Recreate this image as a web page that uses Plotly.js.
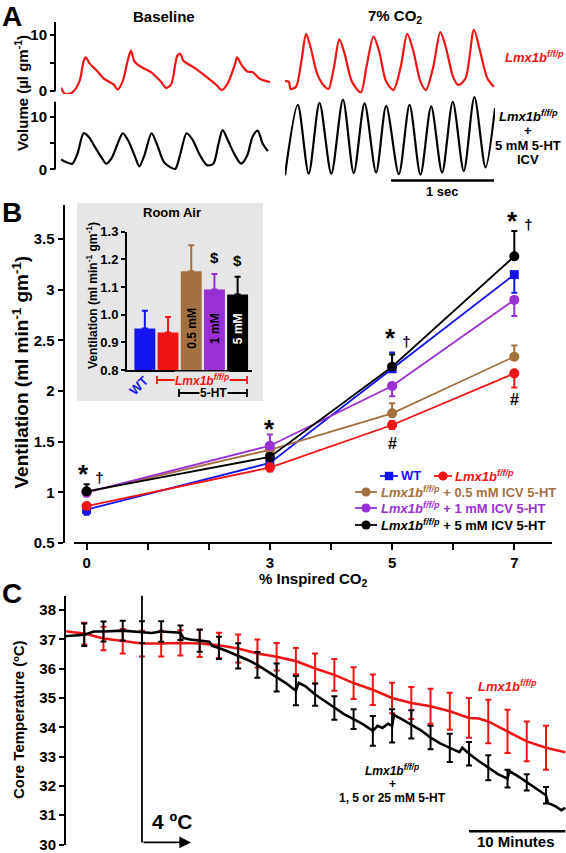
<!DOCTYPE html>
<html><head><meta charset="utf-8">
<script src="https://cdn.plot.ly/plotly-3.0.1.min.js"></script>
<style>html,body{margin:0;padding:0;background:#fff}#chart{width:566px;height:853px}</style>
</head><body><div id="chart"></div>
<script>
// ---------- Panel A: breathing traces (time in s, volume in µl/g) ----------
const redBaseT = [0,0.04,0.11,0.18,0.22,0.24,0.28,0.35,0.42,0.51,0.55,0.6,0.65,0.68,0.71,0.77,0.88,0.97,1.02,1.07,1.13,1.16,1.19,1.3,1.41,1.51,1.56,1.62,1.69,1.71,1.76,1.81,1.86,1.93,2.03];
const redBaseV = [0.6,-0.5,-0.2,1.8,5.4,6.0,4.9,3.6,2.2,1.2,0.3,1.8,5.6,7.2,5.4,4.4,3.3,1.7,0.6,1.2,6.3,6.6,5.4,4.1,2.6,1.1,0.2,1.4,4.8,6.0,4.5,3.5,3.4,2.2,1.6];
const redCo2T = [0,0.037,0.054,0.107,0.16,0.205,0.247,0.317,0.387,0.423,0.475,0.528,0.58,0.65,0.738,0.79,0.86,0.913,0.983,1.053,1.123,1.187,1.246,1.316,1.369,1.439,1.509,1.561,1.632,1.684,1.754,1.835,1.894,1.965,2.028];
const redCo2V = [1.8,1.7,0.4,0.8,5.4,10.2,7.9,2.9,0.8,0.4,4.2,9.2,6.6,1.7,-0.2,4.2,9.7,7.2,1.7,0.2,4.2,10.2,7.2,1.7,0.2,4.2,10.5,7.9,2.6,1.1,2.3,10.9,7.2,2.3,0.8];
const blkBaseT = [0,0.05,0.11,0.16,0.22,0.27,0.32,0.39,0.44,0.49,0.55,0.6,0.65,0.72,0.76,0.81,0.88,0.93,1.0,1.06,1.11,1.16,1.22,1.28,1.35,1.42,1.48,1.53,1.57,1.62,1.69,1.75,1.81,1.86,1.91,1.96,2.01];
const blkBaseV = [1.9,1.4,1.1,3.0,6.9,6.2,4.6,2.4,1.1,2.1,4.9,6.9,5.6,2.4,0.6,2.7,6.9,4.9,1.4,0.45,0.1,3.0,6.9,5.6,2.7,0.8,1.1,4.9,7.5,5.6,2.7,1.1,2.7,6.2,7.4,4.9,3.5];
const blkCo2T = [0,0.124,0.23,0.335,0.45,0.563,0.668,0.773,0.885,0.983,1.106,1.21,1.316,1.42,1.526,1.63,1.737,1.84,1.948,2.04];
const blkCo2V = [-1.1,12.3,-0.8,12.7,-0.8,13.3,-0.7,12.6,-0.6,12.1,-0.9,12.3,-1.0,12.0,-0.6,12.9,-0.3,13.8,0.4,11.7];

// ---------- Panel B: ventilation vs inspired CO2 ----------
const co2Pct = [0,3,5,7];
const co2TickText = ['0','','','3','','5','','7'];
const wtVent = [0.83,1.29,2.22,3.15],   wtPlus = [0,0,0.16,0],     wtMinus = [0.05,0.03,0,0.18];
const lmxVent = [0.865,1.245,1.665,2.175], lmxPlus = [0.03,0.04,0.04,0], lmxMinus = [0.03,0.04,0.04,0.14];
const ht05Vent = [1.0,1.42,1.78,2.34],  ht05Plus = [0,0,0.1,0.11],  ht05Minus = [0,0,0,0];
const ht1Vent = [1.0,1.46,2.05,2.9],    ht1Plus = [0,0.11,0,0],     ht1Minus = [0.04,0,0.1,0.16];
const ht5Vent = [1.01,1.35,2.24,3.33],  ht5Plus = [0.07,0,0.12,0.25], ht5Minus = [0,0.03,0,0];

// inset: room air
const roomGroups = ['WT','Lmx1b','0.5 mM','1 mM','5 mM'];
const roomVent = [0.95,0.936,1.157,1.091,1.073];
const roomErr  = [0.064,0.056,0.094,0.056,0.064];
const roomSig  = ['','','$','$','$'];

// ---------- Panel C: core temperature (min, °C) ----------
const redTempT = [0,2,4,6,8,10,12,14,16,18,20,22,24,26,28,30,32,34,36,38,40,42,43,44,46,48,50,52];
const redTempV = [37.28,37.2,37.03,36.94,36.86,36.86,36.88,36.86,36.8,36.69,36.52,36.41,36.26,36.01,35.79,35.51,35.28,35.0,34.83,34.72,34.55,34.32,34.3,34.2,33.86,33.52,33.3,33.15];
const blkTempT = [0,1,2,3,4,6,8,9,10,11,12,12.3,13,14,15,15.3,16,17,18,19,20,21,22,23,24,24.3,25,26,27,28,29,30,31,32,32.5,33,33.6,34,34.2,35,36,37,38,39,40,41,41.3,42,43,44,45,46,46.2,47,48,49,50,50.2,51,51.6,52];
const blkTempV = [37.11,37.13,37.16,37.27,37.27,37.3,37.25,37.22,37.27,37.25,37.23,37.05,37.0,36.96,36.92,36.78,36.71,36.58,36.44,36.3,36.13,35.92,35.7,35.5,35.25,35.52,35.4,35.12,34.9,34.66,34.45,34.28,34.1,33.88,34.05,33.98,34.12,34.05,34.42,34.28,34.1,33.9,33.65,33.45,33.3,33.15,33.3,33.1,32.85,32.62,32.4,32.25,32.5,32.35,32.12,31.92,31.68,31.42,31.3,31.17,31.25];
const errTimes = [2,4,6,8,10,12,14,16,18,20,22,24,26,28,30,32,34,36,38,40,42,44,46,48,50];
const redErr = [0.37,0.4,0.42,0.44,0.44,0.43,0.46,0.43,0.48,0.48,0.47,0.45,0.51,0.54,0.54,0.52,0.52,0.55,0.6,0.63,0.68,0.74,0.74,0.68,0.75];
const blkErr = [0.38,0.34,0.34,0.37,0.35,0.25,0.38,0.38,0.43,0.44,0.48,0.5,0.38,0.4,0.34,0.51,0.57,0.48,0.4,0.48,0.4,0.43,0.3,0.28,0.28];

// ---------- style ----------
const W = 566, H = 853;
const F = 'Arial, "Liberation Sans", Helvetica, sans-serif';
const RED = '#f01414', BLUE = '#1414f0', BROWN = '#a5703f', PURPLE = '#9a2fd4', BLACK = '#000000';
const GREY = '#e6e6e6';
const px = v => v / W, py = v => 1 - v / H;
const LMX = '<i>Lmx1b<sup>f/f/p</sup></i>';

function pa(text, x, y, size, o = {}) {
  return Object.assign({text, x: px(x), y: py(y), xref: 'paper', yref: 'paper', showarrow: false,
    xanchor: 'center', yanchor: 'middle',
    font: {family: F, size, color: o.color || '#000', weight: 'bold'}}, o.extra || {});
}
function da(text, x, y, xr, yr, size, color) {
  return {text, x, y, xref: xr, yref: yr, showarrow: false, xanchor: 'center', yanchor: 'middle',
    font: {family: F, size, color: color || '#000', weight: 'bold'}};
}
function valueAt(ts, vs, t) { return vs[ts.indexOf(t)]; }

const traces = [];
// Panel A
const waveLine = c => ({color: c, width: 2.2, shape: 'spline', smoothing: 0.8});
traces.push({type: 'scatter', mode: 'lines', x: redBaseT, y: redBaseV, xaxis: 'x', yaxis: 'y', line: waveLine(RED), hoverinfo: 'skip'});
traces.push({type: 'scatter', mode: 'lines', x: redCo2T, y: redCo2V, xaxis: 'x2', yaxis: 'y', line: waveLine(RED), hoverinfo: 'skip'});
traces.push({type: 'scatter', mode: 'lines', x: blkBaseT, y: blkBaseV, xaxis: 'x', yaxis: 'y2', line: waveLine(BLACK), hoverinfo: 'skip'});
traces.push({type: 'scatter', mode: 'lines', x: blkCo2T, y: blkCo2V, xaxis: 'x2', yaxis: 'y2', line: waveLine(BLACK), hoverinfo: 'skip'});

// Panel B main
function ventTrace(y, plus, minus, color, symbol) {
  return {type: 'scatter', mode: 'lines+markers', x: co2Pct, y, xaxis: 'x3', yaxis: 'y3',
    line: {color, width: 1.8}, marker: {color, size: symbol === 'square' ? 9 : 10, symbol},
    error_y: {type: 'data', symmetric: false, array: plus, arrayminus: minus, color, thickness: 2, width: 3},
    cliponaxis: false};
}
traces.push(ventTrace(wtVent, wtPlus, wtMinus, BLUE, 'square'));
traces.push(ventTrace(lmxVent, lmxPlus, lmxMinus, RED, 'circle'));
traces.push(ventTrace(ht05Vent, ht05Plus, ht05Minus, BROWN, 'circle'));
traces.push(ventTrace(ht1Vent, ht1Plus, ht1Minus, PURPLE, 'circle'));
traces.push(ventTrace(ht5Vent, ht5Plus, ht5Minus, BLACK, 'circle'));

// inset bars
const barColors = [BLUE, RED, BROWN, PURPLE, BLACK];
roomVent.forEach((v, i) => {
  traces.push({type: 'bar', x: [i], y: [v], xaxis: 'x4', yaxis: 'y4', width: 0.9, name: roomGroups[i],
    marker: {color: barColors[i], line: {width: 0}},
    error_y: {type: 'data', symmetric: false, array: [roomErr[i]], arrayminus: [0], color: barColors[i], thickness: 2, width: 3}});
});

// Panel C
traces.push({type: 'scatter', mode: 'lines', x: redTempT, y: redTempV, xaxis: 'x5', yaxis: 'y5', line: {color: RED, width: 2.6}});
traces.push({type: 'scatter', mode: 'markers', x: errTimes, y: errTimes.map(t => valueAt(redTempT, redTempV, t)), xaxis: 'x5', yaxis: 'y5',
  marker: {size: 1, color: 'rgba(0,0,0,0)'}, error_y: {type: 'data', array: redErr, color: RED, thickness: 2, width: 3}});
traces.push({type: 'scatter', mode: 'lines', x: blkTempT, y: blkTempV, xaxis: 'x5', yaxis: 'y5', line: {color: BLACK, width: 2.6}});
traces.push({type: 'scatter', mode: 'markers', x: errTimes, y: errTimes.map(t => valueAt(blkTempT, blkTempV, t)), xaxis: 'x5', yaxis: 'y5',
  marker: {size: 1, color: 'rgba(0,0,0,0)'}, error_y: {type: 'data', array: blkErr, color: BLACK, thickness: 2, width: 3}});

const tickFont = s => ({family: F, size: s, color: '#000', weight: 'bold'});
const hidden = {visible: false, showgrid: false, zeroline: false, fixedrange: true};
const yBase = {showgrid: false, zeroline: false, ticks: 'outside', ticklen: 5, tickwidth: 2, tickcolor: '#000',
  linecolor: '#000', linewidth: 2, ticklabeloverflow: 'allow'};

const layout = {
  width: W, height: H, margin: {l: 0, r: 0, t: 0, b: 0}, autosize: false, showlegend: false,
  paper_bgcolor: '#fff', plot_bgcolor: 'rgba(0,0,0,0)', barmode: 'overlay',
  font: {family: F, color: '#000'},
  xaxis: Object.assign({}, hidden, {domain: [px(61), px(271)], range: [0, 2.04], anchor: 'y'}),
  xaxis2: Object.assign({}, hidden, {domain: [px(285), px(495)], range: [0, 2.04], anchor: 'y'}),
  yaxis: Object.assign({}, yBase, {domain: [py(94), py(22)], range: [-0.5, 12.3], anchor: 'free', position: px(55),
    showline: false, tickvals: [0, 5, 10], ticktext: ['0', '', '10'], tickfont: tickFont(15)}),
  yaxis2: Object.assign({}, yBase, {domain: [py(176.3), py(94.9)], range: [-1.3, 14.2], anchor: 'free', position: px(55),
    showline: false, tickvals: [0, 5, 10], ticktext: ['0', '', '10'], tickfont: tickFont(15)}),
  xaxis3: {domain: [px(74), px(552)], range: [-0.206, 7.617], anchor: 'free', position: py(543), showgrid: false, zeroline: false,
    showline: true, linecolor: '#000', linewidth: 2, ticks: 'outside', ticklen: 6, tickwidth: 2, tickcolor: '#000',
    tickvals: [0,1,2,3,4,5,6,7], ticktext: co2TickText, tickfont: tickFont(15)},
  yaxis3: Object.assign({}, yBase, {domain: [py(543), py(205)], range: [0.5, 3.837], anchor: 'free', position: px(63.5),
    showline: true, tickvals: [0.5,1,1.5,2,2.5,3,3.5], ticktext: ['0.5','1','1.5','2','2.5','3','3.5'], tickfont: tickFont(15)}),
  xaxis4: {domain: [px(127), px(252)], range: [-0.77, 4.62], anchor: 'y4', showgrid: false, zeroline: false, showline: true,
    linecolor: '#000', linewidth: 2, ticks: '', showticklabels: false},
  yaxis4: Object.assign({}, yBase, {domain: [py(370), py(231.7)], range: [0.8, 1.3], anchor: 'x4', showline: true, ticklen: 4,
    tickvals: [0.8,0.9,1.0,1.1,1.2,1.3], tickformat: '.1f', tickfont: tickFont(13)}),
  xaxis5: Object.assign({}, hidden, {domain: [px(65), 1], range: [0, 52.08], anchor: 'y5'}),
  yaxis5: Object.assign({}, yBase, {domain: [py(844.5), py(595.5)], range: [30, 38.5], anchor: 'free', position: px(65),
    showline: true, tickvals: [30,31,32,33,34,35,36,37,38], ticktext: ['30','31','32','33','34','35','36','37','38'], tickfont: tickFont(15)}),
  shapes: [], annotations: []
};

const S = layout.shapes, A = layout.annotations;
// inset background
S.push({type: 'rect', xref: 'paper', yref: 'paper', x0: px(77), x1: px(263), y0: py(401), y1: py(203), fillcolor: GREY, line: {width: 0}, layer: 'below'});
// panel A axis lines (0 to top)
S.push({type: 'line', xref: 'paper', yref: 'y', x0: px(55), x1: px(55), y0: 0, y1: 12.3, line: {color: '#000', width: 2}});
S.push({type: 'line', xref: 'paper', yref: 'y2', x0: px(55), x1: px(55), y0: 0, y1: 12.9, line: {color: '#000', width: 2}});
// 1 sec scale bar
S.push({type: 'line', xref: 'x2', yref: 'paper', x0: 1.03, x1: 2.03, y0: py(180.5), y1: py(180.5), line: {color: '#000', width: 2.5}});
// inset brackets
function bracket(x0, x1, y, color) {
  S.push({type: 'line', xref: 'paper', yref: 'paper', x0: px(x0), x1: px(x1), y0: py(y), y1: py(y), line: {color, width: 1.8}});
  S.push({type: 'line', xref: 'paper', yref: 'paper', x0: px(x0), x1: px(x0), y0: py(y - 4), y1: py(y + 4), line: {color, width: 1.8}});
  S.push({type: 'line', xref: 'paper', yref: 'paper', x0: px(x1), x1: px(x1), y0: py(y - 4), y1: py(y + 4), line: {color, width: 1.8}});
}
bracket(157, 247, 380, RED);
bracket(179, 247, 393, '#000');
// legend symbols
function legSym(x0, x1, y, color, square) {
  S.push({type: 'line', xref: 'paper', yref: 'paper', x0: px(x0), x1: px(x1), y0: py(y), y1: py(y), line: {color, width: 1.8}});
  const cx = (x0 + x1) / 2, r = square ? 4.2 : 4.6;
  S.push({type: square ? 'rect' : 'circle', xref: 'paper', yref: 'paper', x0: px(cx - r), x1: px(cx + r), y0: py(y + r), y1: py(y - r),
    fillcolor: color, line: {color, width: 0}});
}
legSym(380, 398, 476, BLUE, true);
legSym(434, 452, 476, RED, false);
legSym(355, 377, 492, BROWN, false);
legSym(355, 377, 508, PURPLE, false);
legSym(355, 377, 525, BLACK, false);
// panel C: 4 °C marker and 10 min bar
S.push({type: 'line', xref: 'x5', yref: 'y5', x0: 8, x1: 8, y0: 38.5, y1: 30.07, line: {color: '#000', width: 1.8}});
S.push({type: 'line', xref: 'x5', yref: 'y5', x0: 42, x1: 52, y0: 30.45, y1: 30.45, line: {color: '#000', width: 2.5}});
A.push({x: 13.1, y: 30.07, xref: 'x5', yref: 'y5', ax: 8, ay: 30.07, axref: 'x5', ayref: 'y5', text: '', showarrow: true,
  arrowhead: 2, arrowsize: 1.3, arrowwidth: 1.8, arrowcolor: '#000'});

// ---- texts ----
A.push(pa('A', 12, 17, 28), pa('B', 12, 212, 28), pa('C', 12, 593, 28));
A.push(pa('Baseline', 164, 17, 15), pa('7% CO<sub>2</sub>', 395, 17, 15));
A.push(pa('Volume (µl gm<sup>-1</sup>)', 21, 93, 15, {extra: {textangle: -90}}));
A.push(pa(LMX, 534, 57, 13, {color: RED}));
A.push(pa(LMX, 528, 116, 13), pa('+', 528, 131, 13), pa('5 mM 5-HT', 528, 145, 13), pa('ICV', 528, 159, 13));
A.push(Object.assign(da('1 sec', 1.53, 0, 'x2', 'paper', 13), {y: py(192)}));

// panel B
A.push(pa('Ventilation (ml min<sup>-1</sup> gm<sup>-1</sup>)', 20.5, 372, 19, {extra: {textangle: -90}}));
A.push(pa('% Inspired CO<sub>2</sub>', 313, 579, 15));
const starTxt = '<span style="font-size:26px">* </span>†';
A.push(da(starTxt, 0.08, 1.18, 'x3', 'y3', 15));
A.push(da('<span style="font-size:26px">*</span>', 3, 1.63, 'x3', 'y3', 15));
A.push(da(starTxt, 5.1, 2.52, 'x3', 'y3', 15));
A.push(da(starTxt, 7.1, 3.68, 'x3', 'y3', 15));
A.push(da('#', 5, 1.484, 'x3', 'y3', 16), da('#', 7, 1.92, 'x3', 'y3', 16));
// legend texts
const legTxt = (t, x, y, c) => Object.assign(pa(t, x, y, 13, {color: c}), {xanchor: 'left'});
A.push(legTxt('WT', 399, 476, BLUE), legTxt(LMX, 453, 476, RED));
A.push(legTxt(LMX + ' + 0.5 mM ICV 5-HT', 379, 492, BROWN));
A.push(legTxt(LMX + ' + 1 mM ICV 5-HT', 379, 508, PURPLE));
A.push(legTxt(LMX + ' + 5 mM ICV 5-HT', 379, 525, BLACK));
// inset texts
A.push(pa('Room Air', 171.5, 212, 13));
A.push(pa('Ventilation (ml min<sup>-1</sup> gm<sup>-1</sup>)', 92, 296, 12, {extra: {textangle: -90}}));
A.push(pa('WT', 139, 386, 13, {color: BLUE, extra: {textangle: -45}}));
A.push(pa(LMX, 202, 380, 12, {color: RED, extra: {bgcolor: GREY, borderpad: 0}}));
A.push(pa('5-HT', 213, 393, 12, {extra: {bgcolor: GREY, borderpad: 0}}));
const barTxtColor = ['#000', '#000', '#000', '#000', '#fff'];
[2, 3, 4].forEach(i => {
  const a = da(roomGroups[i], i, 0.95, 'x4', 'y4', 12, barTxtColor[i]);
  a.textangle = -90; A.push(a);
  A.push(da(roomSig[i], i, roomVent[i] + roomErr[i] + 0.06, 'x4', 'y4', 15));
});

// panel C texts
A.push(pa('Core Temperature (ºC)', 18, 720, 15, {extra: {textangle: -90}}));
A.push(pa(LMX, 507, 686, 13, {color: RED}));
A.push(pa(LMX, 392, 770, 12), pa('+', 392, 784, 12), pa('1, 5 or 25 mM 5-HT', 392, 798, 12));
A.push(pa('4 ºC', 171.5, 821, 21));
A.push(pa('10 Minutes', 515.5, 841, 15));

Plotly.newPlot('chart', traces, layout, {staticPlot: true, displayModeBar: false});
</script>
</body></html>
